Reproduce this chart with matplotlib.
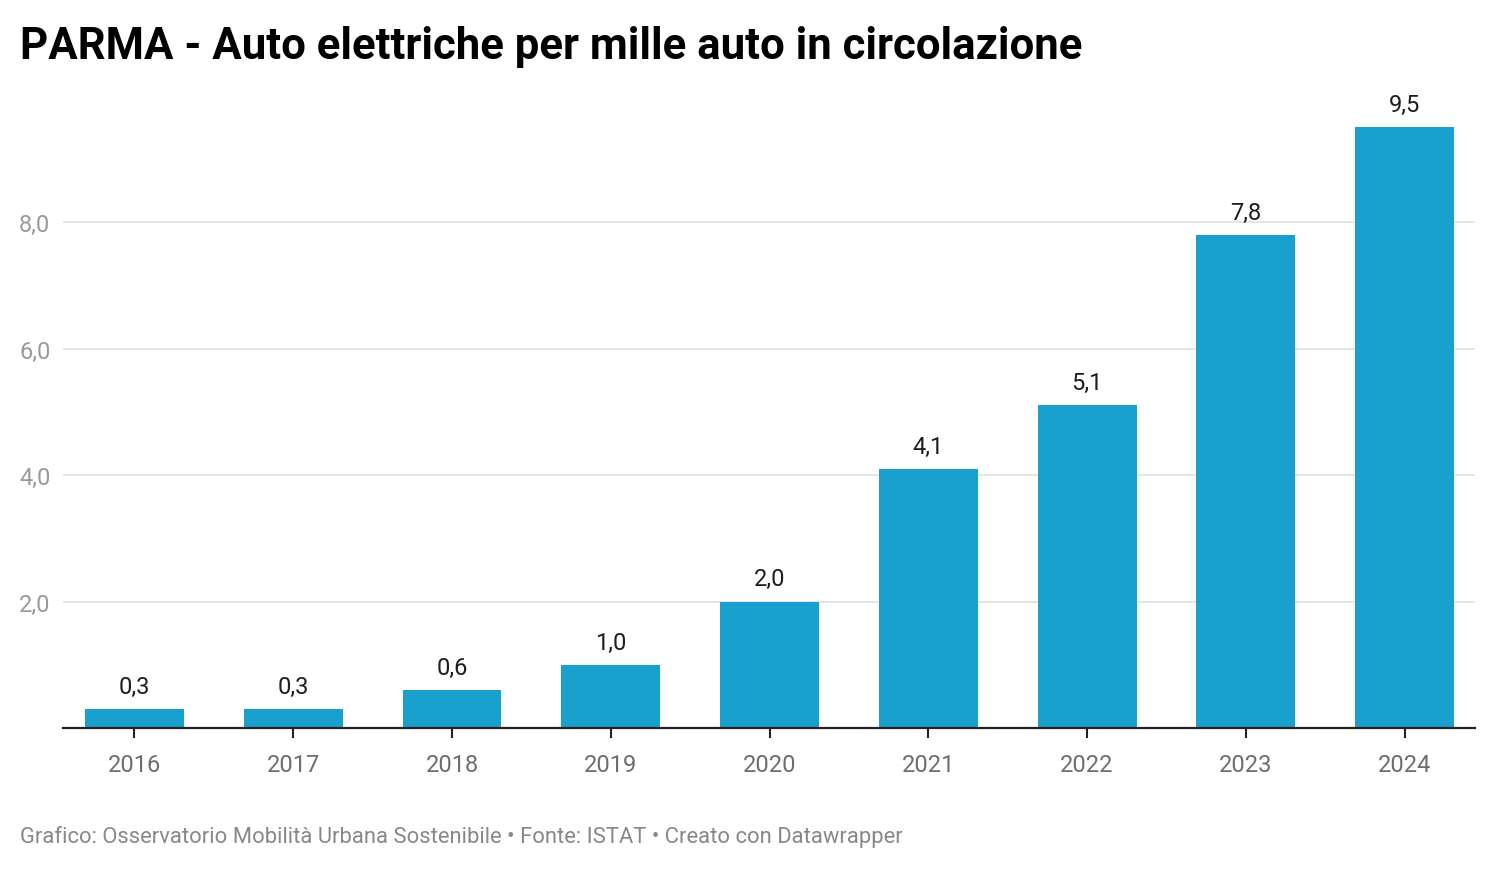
import matplotlib
matplotlib.use("Agg")
import matplotlib.pyplot as plt

years = ["2016", "2017", "2018", "2019", "2020", "2021", "2022", "2023", "2024"]
values = [0.3, 0.3, 0.6, 1.0, 2.0, 4.1, 5.1, 7.8, 9.5]
yticks = [2.0, 4.0, 6.0, 8.0]

plt.rcParams['font.family'] = ['Roboto', 'DejaVu Sans']

W, H = 1496, 870
fig = plt.figure(figsize=(W / 100, H / 100), dpi=100)
left, right, bottom, top = 63 / W, 1475 / W, 1 - 729 / H, 1 - 101 / H
ax = fig.add_axes([left, bottom, right - left, top - bottom])

x = list(range(len(years)))
bars = ax.bar(x, values, width=0.623, color="#1aa0cd", zorder=3)
ax.set_xlim(-0.45, 8.443)
ax.set_ylim(0, (729 - 101) / 63.25)

for xi, v in zip(x, values):
    ax.annotate(f"{v:.1f}".replace(".", ","), (xi, v), xytext=(0, 8),
                textcoords="offset points", ha="center", va="bottom",
                fontsize=17, color="#1d1d1d")

ax.set_yticks(yticks)
ax.set_yticklabels([f"{t:.1f}".replace(".", ",") for t in yticks])
ax.grid(axis="y", color="#e0e0e0", linewidth=1.2, zorder=0)
ax.tick_params(axis="y", length=0, pad=9, labelsize=17, labelcolor="#9a9a9a")
ax.set_xticks(x)
ax.set_xticklabels(years)
ax.tick_params(axis="x", length=7, width=1.5, color="#222222", pad=11,
               labelsize=17, labelcolor="#6e6e6e")
for s in ["top", "right", "left"]:
    ax.spines[s].set_visible(False)
ax.spines["bottom"].set_color("#222222")
ax.spines["bottom"].set_linewidth(1.6)
ax.spines["bottom"].set_zorder(4)

fig.text(20 / W, 1 - 47.5 / H, "PARMA - Auto elettriche per mille auto in circolazione",
         fontsize=31.5, fontweight="bold", color="#000000", va="center", ha="left")
fig.text(20 / W, 1 - 837 / H,
         "Grafico: Osservatorio Mobilità Urbana Sostenibile • Fonte: ISTAT • Creato con Datawrapper",
         fontsize=15.85, color="#888888", va="center", ha="left")

fig.savefig("out.png", dpi=100)
